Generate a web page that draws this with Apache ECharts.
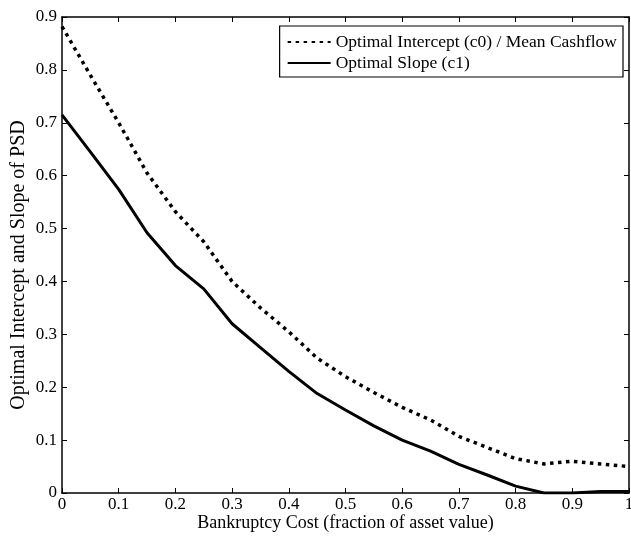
<!DOCTYPE html>
<html>
<head>
<meta charset="utf-8">
<script src="https://cdn.jsdelivr.net/npm/echarts@6/dist/echarts.min.js"></script>
<style>html,body{margin:0;padding:0;background:#fff;}#chart{width:631px;height:537px;}</style>
</head>
<body>
<div id="chart"></div>
<script>
var costs = [0, 0.05, 0.1, 0.15, 0.2, 0.25, 0.3, 0.35, 0.4, 0.45, 0.5, 0.55, 0.6, 0.65, 0.7, 0.75, 0.8, 0.85, 0.9, 0.95, 1];
var interceptValues = [0.882, 0.79, 0.70, 0.605, 0.532, 0.475, 0.40, 0.35, 0.305, 0.255, 0.22, 0.19, 0.162, 0.138, 0.107, 0.086, 0.065, 0.055, 0.06, 0.055, 0.05];
var slopeValues = [0.715, 0.645, 0.574, 0.492, 0.43, 0.386, 0.32, 0.275, 0.23, 0.188, 0.157, 0.127, 0.10, 0.079, 0.054, 0.034, 0.013, 0.0, 0.0, 0.003, 0.003];
var seriesNames = ['Optimal Intercept (c0) / Mean Cashflow', 'Optimal Slope (c1)'];
var xTitle = 'Bankruptcy Cost (fraction of asset value)';
var yTitle = 'Optimal Intercept and Slope of PSD';

function pairs(xs, ys) { return xs.map(function (x, i) { return [x, ys[i]]; }); }
var font = 'Liberation Serif';
function fmt(v) { return (Math.abs(v) < 1e-9) ? '0' : (Math.abs(v - 1) < 1e-9 ? '1' : v.toFixed(1)); }

var chart = echarts.init(document.getElementById('chart'), null, {renderer: 'canvas'});
var axisLineStyle = {show: true, onZero: false, lineStyle: {color: '#000', width: 1.5}};
var tickStyle = {show: true, inside: true, length: 5, lineStyle: {color: '#000', width: 1}};
chart.setOption({
  animation: false,
  backgroundColor: '#fff',
  grid: {left: 62, right: 2, top: 17, bottom: 44, containLabel: false, outerBoundsMode: 'none'},
  legend: {
    orient: 'vertical', right: 8, top: 26,
    backgroundColor: '#fff', borderColor: '#000', borderWidth: 1.2, borderRadius: 0,
    padding: [7, 6, 5, 7], itemGap: 3, itemWidth: 43, itemHeight: 14,
    itemStyle: {opacity: 0},
    textStyle: {fontFamily: font, fontSize: 17.5, color: '#000'},
    data: seriesNames
  },
  xAxis: [{
    type: 'value', min: 0, max: 1, interval: 0.1, position: 'bottom',
    name: xTitle, nameLocation: 'middle', nameGap: 21, nameMoveOverlap: false,
    nameTextStyle: {fontFamily: font, fontSize: 18, color: '#000', verticalAlign: 'top'},
    axisLine: axisLineStyle, axisTick: tickStyle,
    axisLabel: {fontFamily: font, fontSize: 17, color: '#000', margin: 3, formatter: fmt},
    splitLine: {show: false}
  }, {
    type: 'value', min: 0, max: 1, interval: 0.1, position: 'top',
    axisLine: axisLineStyle, axisTick: tickStyle,
    axisLabel: {show: false}, splitLine: {show: false}
  }],
  yAxis: [{
    type: 'value', min: 0, max: 0.9, interval: 0.1, position: 'left',
    name: yTitle, nameLocation: 'middle', nameGap: 33, nameRotate: 90, nameMoveOverlap: false,
    nameTextStyle: {fontFamily: font, fontSize: 20, color: '#000', padding: [0, 20, 0, 0]},
    axisLine: axisLineStyle, axisTick: tickStyle,
    axisLabel: {fontFamily: font, fontSize: 17, color: '#000', margin: 5, formatter: fmt},
    splitLine: {show: false}
  }, {
    type: 'value', min: 0, max: 0.9, interval: 0.1, position: 'right',
    axisLine: axisLineStyle, axisTick: tickStyle,
    axisLabel: {show: false}, splitLine: {show: false}
  }],
  series: [{
    name: seriesNames[0], type: 'line', xAxisIndex: 0, yAxisIndex: 0,
    data: pairs(costs, interceptValues), symbol: 'none', smooth: false,
    lineStyle: {color: '#000', width: 3.5, type: [3.5, 4.5], cap: 'butt'},
    itemStyle: {color: '#000'}
  }, {
    name: seriesNames[1], type: 'line', xAxisIndex: 0, yAxisIndex: 0,
    data: pairs(costs, slopeValues), symbol: 'none', smooth: false,
    lineStyle: {color: '#000', width: 3, type: 'solid'},
    itemStyle: {color: '#000'}
  }]
});
</script>
</body>
</html>
